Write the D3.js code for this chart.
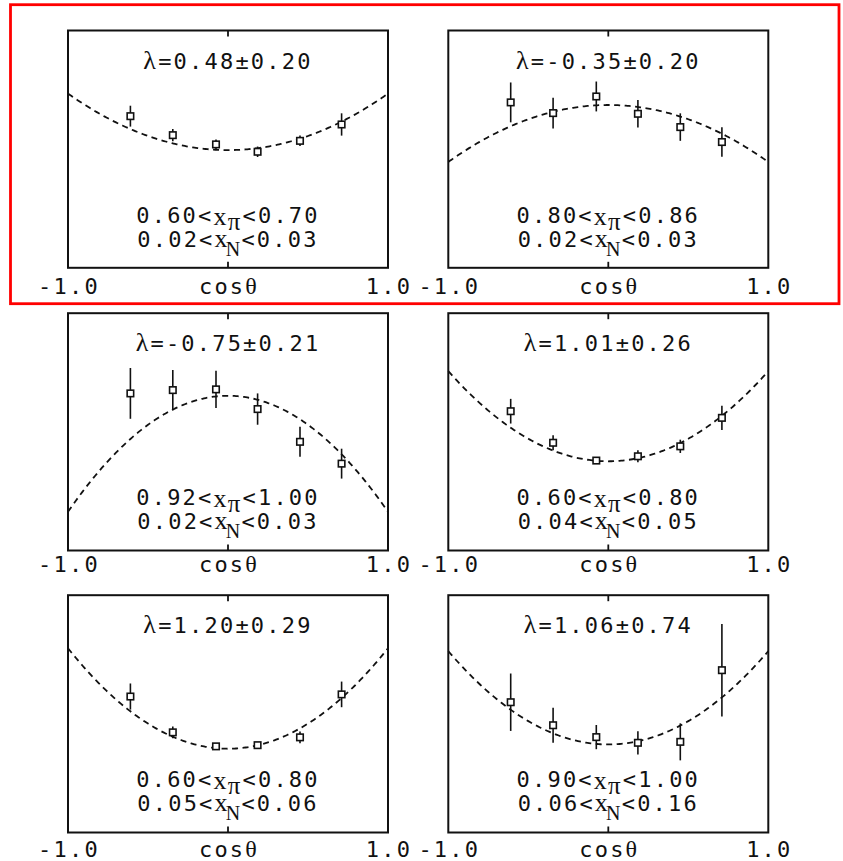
<!DOCTYPE html>
<html>
<head>
<meta charset="utf-8">
<script src="https://cdn.jsdelivr.net/npm/d3@7"></script>
<style>
  html, body { margin: 0; padding: 0; background: #fff; }
  svg { display: block; }
  .mono { font-family: "DejaVu Sans Mono", "Liberation Mono", monospace; }
  .serif { font-family: "Liberation Serif", "DejaVu Serif", serif; }
</style>
</head>
<body>
<svg id="chart" width="843" height="861"></svg>
<script>
// Angular distributions in bins of x_pi and x_N, with fits A(1 + λ cos²θ)

const cosBins = [-0.61, -0.345, -0.075, 0.185, 0.45, 0.71];

const lambdas    = [0.48, -0.35, -0.75, 1.01, 1.20, 1.06];
const lambdaErrs = [0.20,  0.20,  0.21, 0.26, 0.29, 0.74];

const xPiLow  = ["0.60", "0.80", "0.92", "0.60", "0.60", "0.90"];
const xPiHigh = ["0.70", "0.86", "1.00", "0.80", "0.80", "1.00"];
const xNLow   = ["0.02", "0.02", "0.02", "0.04", "0.05", "0.06"];
const xNHigh  = ["0.03", "0.03", "0.03", "0.05", "0.06", "0.16"];

// fit normalisation A for each bin (relative units)
const fitNorms = [0.496, 0.686, 0.652, 0.376, 0.353, 0.371];

// measured yields (relative units) and their errors, one array per bin
const yields1 = [0.639, 0.559, 0.520, 0.489, 0.535, 0.604];
const errors1 = [0.044, 0.026, 0.021, 0.022, 0.022, 0.047];
const yields2 = [0.697, 0.652, 0.722, 0.649, 0.593, 0.530];
const errors2 = [0.084, 0.065, 0.063, 0.058, 0.058, 0.062];
const yields3 = [0.662, 0.676, 0.679, 0.596, 0.458, 0.366];
const errors3 = [0.107, 0.085, 0.079, 0.066, 0.063, 0.063];
const yields4 = [0.587, 0.454, 0.379, 0.397, 0.439, 0.559];
const errors4 = [0.052, 0.032, 0.000, 0.025, 0.028, 0.051];
const yields5 = [0.573, 0.422, 0.363, 0.368, 0.401, 0.582];
const errors5 = [0.055, 0.025, 0.000, 0.000, 0.025, 0.054];
const yields6 = [0.549, 0.452, 0.402, 0.378, 0.382, 0.684];
const errors6 = [0.121, 0.074, 0.051, 0.049, 0.078, 0.195];

const allYields = [yields1, yields2, yields3, yields4, yields5, yields6];
const allErrors = [errors1, errors2, errors3, errors4, errors5, errors6];

const xTickLabels = ["-1.0", "cosθ", "1.0"];

// ---- layout ----
const svg = d3.select("#chart");
const W = 320, H = 237.3;
const colX = [68, 448.3];
const rowY = [30.5, 313.2, 595.2];
const labelGap = [26.5, 21.5, 24.8];   // baseline of the axis labels below each row

const x = d3.scaleLinear().domain([-1, 1]).range([0, W]);
const y = d3.scaleLinear().domain([0, 1]).range([H, 0]);

const ink = "#111";
const fontSize = 22;
const spacing = 2.2;

// highlight frame around the first row
svg.append("rect")
  .attr("x", 10.5).attr("y", 4.7)
  .attr("width", 828.5).attr("height", 299)
  .attr("fill", "none").attr("stroke", "#ff0000").attr("stroke-width", 2.8);

const curveSamples = d3.range(0, 201).map(i => -1 + i / 100);

lambdas.forEach((lam, i) => {
  const row = Math.floor(i / 2);
  const g = svg.append("g")
    .attr("transform", `translate(${colX[i % 2]},${rowY[row]})`);

  // fitted curve A(1 + λ cos²θ)
  const A = fitNorms[i];
  const line = d3.line()
    .x(c => x(c))
    .y(c => y(A * (1 + lam * c * c)));
  g.append("path")
    .datum(curveSamples)
    .attr("d", line)
    .attr("fill", "none")
    .attr("stroke", ink)
    .attr("stroke-width", 1.8)
    .attr("stroke-dasharray", "6,4.5");

  // data points with vertical error bars
  const pts = cosBins.map((c, k) => ({ c, v: allYields[i][k], e: allErrors[i][k] }));
  g.selectAll("line.err")
    .data(pts.filter(d => d.e > 0))
    .join("line")
    .attr("class", "err")
    .attr("x1", d => x(d.c)).attr("x2", d => x(d.c))
    .attr("y1", d => y(d.v - d.e)).attr("y2", d => y(d.v + d.e))
    .attr("stroke", ink).attr("stroke-width", 1.6);
  const s = 6.5;
  g.selectAll("rect.pt")
    .data(pts)
    .join("rect")
    .attr("class", "pt")
    .attr("x", d => x(d.c) - s / 2).attr("y", d => y(d.v) - s / 2)
    .attr("width", s).attr("height", s)
    .attr("fill", "#fff").attr("stroke", ink).attr("stroke-width", 1.6);

  // frame
  g.append("rect")
    .attr("x", 0).attr("y", 0).attr("width", W).attr("height", H)
    .attr("fill", "none").attr("stroke", ink).attr("stroke-width", 2);

  // inner ticks at cosθ = 0
  g.append("line")
    .attr("x1", x(0)).attr("x2", x(0)).attr("y1", 0).attr("y2", 6)
    .attr("stroke", ink).attr("stroke-width", 1.8);
  g.append("line")
    .attr("x1", x(0)).attr("x2", x(0)).attr("y1", H).attr("y2", H - 6)
    .attr("stroke", ink).attr("stroke-width", 1.8);

  // axis labels below the frame
  const axisLab = g.selectAll("text.axl")
    .data([-1, 0, 1])
    .join("text")
    .attr("class", "axl mono")
    .attr("x", d => x(d) + 1)
    .attr("y", H + labelGap[row])
    .attr("text-anchor", "middle")
    .attr("font-size", fontSize)
    .attr("letter-spacing", spacing)
    .attr("fill", ink);
  axisLab.each(function (d, k) {
    const t = d3.select(this);
    const label = xTickLabels[k];
    if (label.endsWith("θ")) {
      t.append("tspan").text(label.slice(0, -1));
      t.append("tspan").attr("class", "serif").attr("font-size", 24).text("θ");
    } else {
      t.text(label);
    }
  });

  // λ label
  const lt = g.append("text")
    .attr("class", "mono")
    .attr("x", x(0)).attr("y", 38)
    .attr("text-anchor", "middle")
    .attr("font-size", fontSize)
    .attr("letter-spacing", spacing)
    .attr("fill", ink);
  lt.append("tspan").attr("class", "serif").attr("font-size", 26).text("λ");
  lt.append("tspan").text("=" + lam.toFixed(2) + "±" + lambdaErrs[i].toFixed(2));

  // bin ranges
  const t1 = g.append("text")
    .attr("class", "mono")
    .attr("x", x(0)).attr("y", 192)
    .attr("text-anchor", "middle")
    .attr("font-size", fontSize)
    .attr("letter-spacing", spacing)
    .attr("fill", ink);
  t1.append("tspan").text(xPiLow[i] + "<");
  t1.append("tspan").attr("class", "serif").attr("font-size", 26).attr("dy", 2).text("x");
  t1.append("tspan").attr("class", "serif").attr("font-size", 25).attr("dy", 5).attr("dx", -1).text("π");
  t1.append("tspan").attr("dy", -7).text("<" + xPiHigh[i]);

  const t2 = g.append("text")
    .attr("class", "mono")
    .attr("x", x(0)).attr("y", 216)
    .attr("text-anchor", "middle")
    .attr("font-size", fontSize)
    .attr("letter-spacing", spacing)
    .attr("fill", ink);
  t2.append("tspan").text(xNLow[i] + "<");
  t2.append("tspan").attr("class", "serif").attr("font-size", 26).text("x");
  t2.append("tspan").attr("class", "serif").attr("font-size", 20).attr("dy", 9).attr("dx", -4).text("N");
  t2.append("tspan").attr("dy", -9).attr("dx", -1).text("<" + xNHigh[i]);
});
</script>
</body>
</html>
